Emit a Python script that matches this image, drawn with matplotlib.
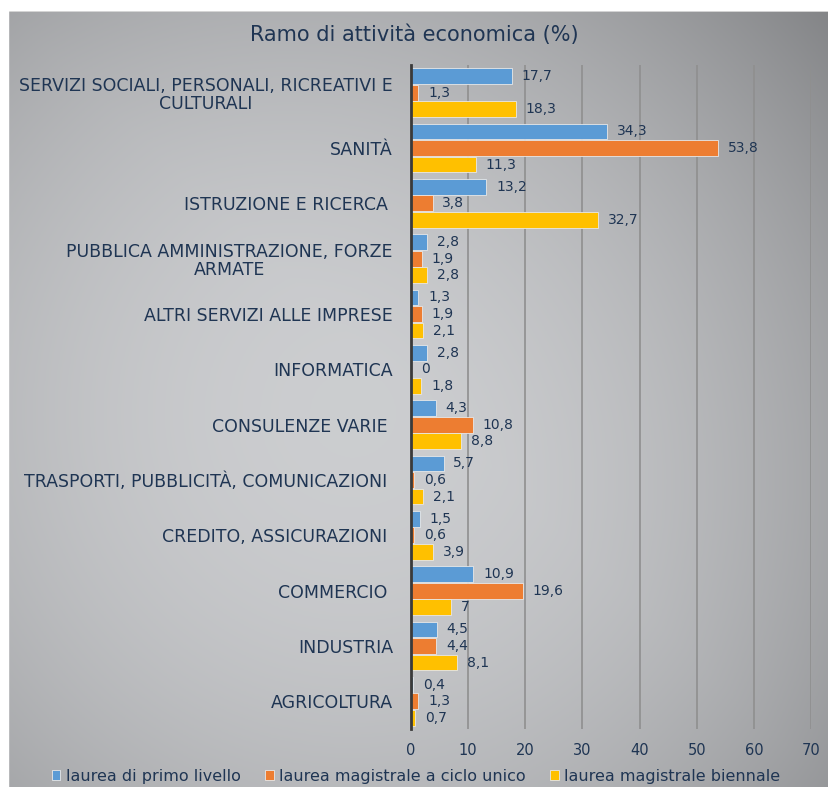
import matplotlib.pyplot as plt
import numpy as np
from matplotlib.patches import Rectangle

categories = [
    "SERVIZI SOCIALI, PERSONALI, RICREATIVI E\nCULTURALI",
    "SANITÀ",
    "ISTRUZIONE E RICERCA ",
    "PUBBLICA AMMINISTRAZIONE, FORZE\nARMATE",
    "ALTRI SERVIZI ALLE IMPRESE",
    "INFORMATICA",
    "CONSULENZE VARIE ",
    "TRASPORTI, PUBBLICITÀ, COMUNICAZIONI ",
    "CREDITO, ASSICURAZIONI ",
    "COMMERCIO ",
    "INDUSTRIA",
    "AGRICOLTURA",
]
primo_livello = [17.7, 34.3, 13.2, 2.8, 1.3, 2.8, 4.3, 5.7, 1.5, 10.9, 4.5, 0.4]
ciclo_unico = [1.3, 53.8, 3.8, 1.9, 1.9, 0, 10.8, 0.6, 0.6, 19.6, 4.4, 1.3]
biennale = [18.3, 11.3, 32.7, 2.8, 2.1, 1.8, 8.8, 2.1, 3.9, 7, 8.1, 0.7]
series_names = ["laurea di primo livello", "laurea magistrale a ciclo unico",
                "laurea magistrale biennale"]
colors = ["#5B9BD5", "#ED7D31", "#FFC000"]
txt = "#1f3553"

plt.rcParams['font.family'] = ['DejaVu Sans']

W, H = 829, 787
fig = plt.figure(figsize=(W / 100, H / 100), dpi=100)
fig.patch.set_facecolor("white")

# gradient background panel
bg = fig.add_axes([8 / W, 0, 1 - 8 / W, 1 - 10 / H], zorder=-1)
yy, xx = np.mgrid[0:1:300j, 0:1:300j]
r = np.sqrt(((xx - 0.42) / 0.75) ** 2 + ((yy - 0.52) / 0.8) ** 2)
shade = 0.80 - 0.22 * r ** 2 - 0.06 * (xx - yy).clip(0, None)
img = np.dstack([shade, shade + 0.005, shade + 0.015]).clip(0, 1)
bg.imshow(img, aspect="auto", extent=[0, 1, 0, 1], origin="upper")
bg.axhline(1, color="#cfcfcf", lw=2)
bg.set_axis_off()

ax = fig.add_axes([411 / W, 1 - 729 / H, 400 / W, 664 / H])
ax.patch.set_alpha(0)

y = np.arange(len(categories))
h = 0.285
offs = [-0.3, 0, 0.3]
for vals, off, c, name in zip([primo_livello, ciclo_unico, biennale], offs, colors, series_names):
    bars = ax.barh(y + off, vals, height=h, color=c, edgecolor="#e8e8e8", linewidth=0.6,
                   label=name, zorder=3)
    for b, v in zip(bars, vals):
        lab = ("%g" % v).replace(".", ",")
        ax.annotate(lab, (b.get_width(), b.get_y() + b.get_height() / 2),
                    xytext=(7, 0), textcoords="offset points", va="center", ha="left",
                    fontsize=10, color=txt, zorder=4)

ax.set_xlim(0, 70)
ax.set_ylim(len(categories) - 0.5, -0.5)
ax.set_xticks(range(0, 71, 10))
ax.set_yticks(y)
ax.set_yticklabels(categories, multialignment="center", linespacing=1.0)
ax.tick_params(axis="both", length=0, labelsize=12.5, labelcolor=txt)
ax.tick_params(axis="x", pad=10, labelsize=10.5)
ax.tick_params(axis="y", pad=13)
ax.xaxis.grid(True, color="#8f8f8f", lw=1.2, zorder=0)
for s in ["top", "right", "bottom"]:
    ax.spines[s].set_visible(False)
ax.spines["left"].set_color("#3a3a3a")
ax.spines["left"].set_linewidth(2)
ax.spines["left"].set_zorder(5)

fig.text(0.5, 1 - 35 / H, "Ramo di attività economica (%)", ha="center", va="center",
         fontsize=15, color=txt)

handles, labels = ax.get_legend_handles_labels()
fig.legend(handles, labels, loc="center", bbox_to_anchor=(416 / W, 1 - 776 / H), ncol=3,
           frameon=False, fontsize=11.5, labelcolor=txt, handlelength=0.55, handleheight=0.55,
           handletextpad=0.35, columnspacing=1.5, borderpad=0.1)

# white margins that crop the panel like in the source
fig.add_artist(Rectangle((0, 0), 8 / W, 1, transform=fig.transFigure, color="white", zorder=10))
fig.add_artist(Rectangle((0, 1 - 10 / H), 1, 10 / H, transform=fig.transFigure, color="white", zorder=10))

fig.savefig("out.png", dpi=100)
